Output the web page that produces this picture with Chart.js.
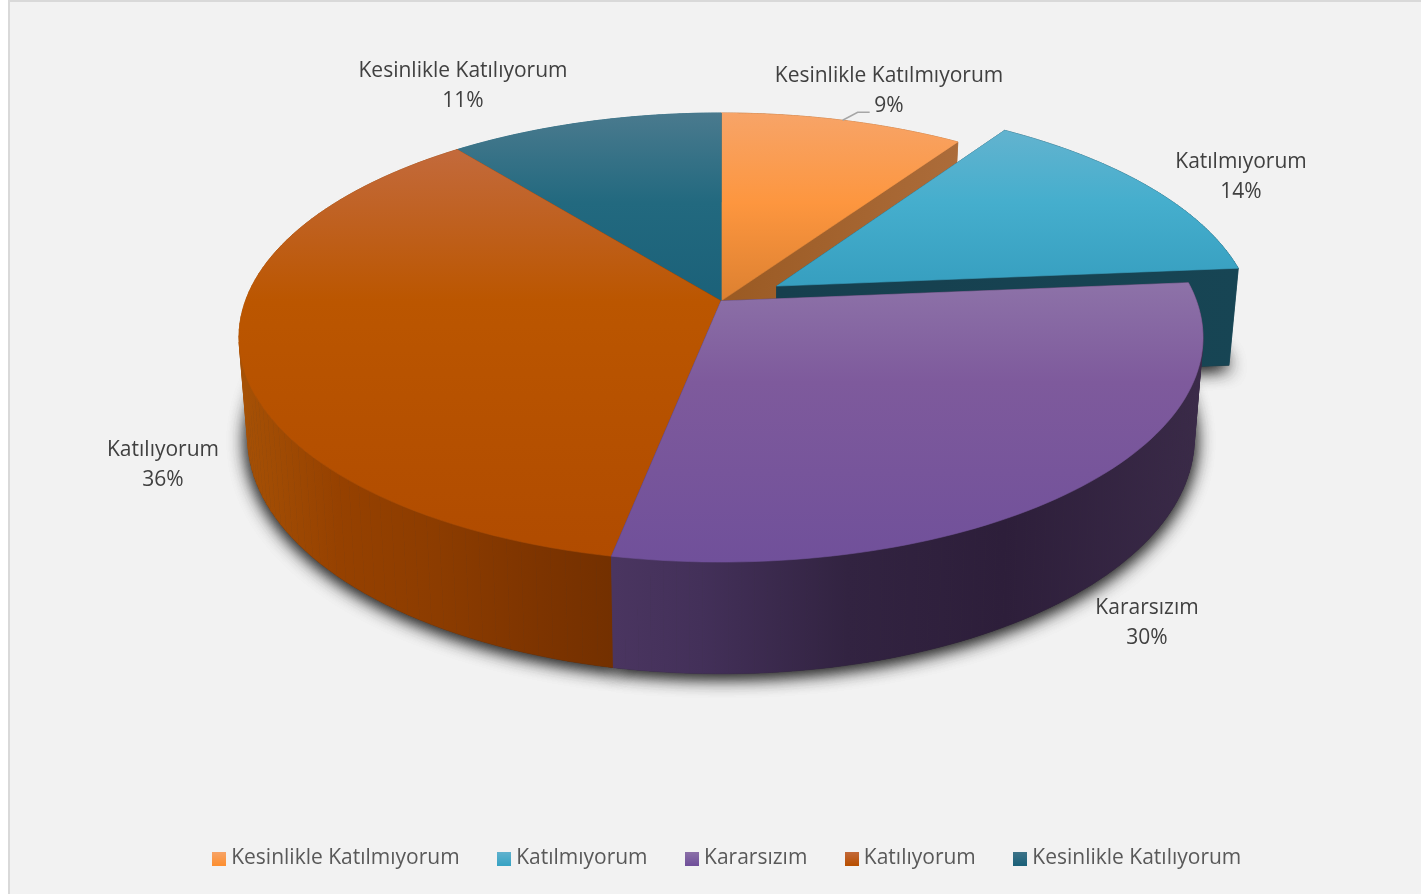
<!DOCTYPE html>
<html lang="tr">
<head>
<meta charset="UTF-8">
<title>Pie</title>
<script src="https://cdn.jsdelivr.net/npm/chart.js"></script>
<style>
  html, body { margin: 0; background: #fff; }
  canvas { display: block; }
</style>
</head>
<body>
<canvas id="chart" width="1421" height="894"></canvas>
<script>
const categories = ['Kesinlikle Katılmıyorum', 'Katılmıyorum', 'Kararsızım', 'Katılıyorum', 'Kesinlikle Katılıyorum']
const shares = [9.55, 14.1, 29.45, 36.15, 10.75]
const percentLabels = ['9%', '14%', '30%', '36%', '11%']
const exploded = [0, 0.137, 0, 0, 0]
const baseColors = ['#f79646', '#4bacc6', '#8064a2', '#b84f00', '#1f6a80']

// top face shading, stops are fractions of the disc height
const topStops = [
  [[0, '#f7a468'], [0.2, '#fd963f'], [0.42, '#dc8030']],
  [[0.04, '#62b3cf'], [0.2, '#45aecd'], [0.38, '#379fc0']],
  [[0.38, '#8d72a8'], [0.6, '#7e5a9c'], [1, '#70509a']],
  [[0.08, '#c36a3c'], [0.42, '#bb5600'], [1, '#b04b00']],
  [[0, '#4a7a8e'], [0.2, '#22697f'], [0.42, '#1b6179']],
]
const wallStops = [
  [[0, '#9a5a23'], [1, '#ac6c3a']],
  [[0, '#163f4e'], [1, '#174554']],
  [[0, '#4a3560'], [0.15, '#433059'], [0.4, '#322341'], [0.67, '#2d1e3a'], [1, '#3a2a48']],
  [[0, '#a55005'], [0.25, '#964100'], [0.52, '#8c3c00'], [0.8, '#7d3400'], [1, '#733000']],
  [[0, '#1b6179'], [1, '#1b6179']],
]
const wallSpan = [[722, 960], [778, 1238], [614, 1197], [247, 614], [458, 721]]

const labelSpots = [[889, 76], [1241, 162], [1147, 608], [163, 450], [463, 71]]

// disc projection, fitted on the picture
const CX = 721, CY = 301
const RADIUS = 400
const STRETCH_X = 1.189, STRETCH_Y = 0.5465, TILT = 0.1626
const TAPER = 0.982, DEPTH = 97, GROW = 0.05, GROW_FROM = 267

function project(X, Y, r, lower) {
  const d = 1 - TILT * Y
  let x = CX + (r * STRETCH_X * X) / d
  let y = CY + (r * STRETCH_Y * Y) / d
  if (lower) {
    x = CX + (x - CX) * TAPER
    y = y + DEPTH + (y - GROW_FROM) * GROW
  }
  return [x, y]
}

function sliceGeometry(arc, i) {
  const mid = (arc.startAngle + arc.endAngle) / 2
  const ox = exploded[i] * Math.cos(mid)
  const oy = exploded[i] * Math.sin(mid)
  const rim = []
  const steps = 80
  for (let s = 0; s <= steps; s++) {
    const a = arc.startAngle + ((arc.endAngle - arc.startAngle) * s) / steps
    rim.push([Math.cos(a) + ox, Math.sin(a) + oy])
  }
  return { mid, ox, oy, rim, r: arc.outerRadius }
}

function tracePath(ctx, pts) {
  ctx.beginPath()
  pts.forEach((p, n) => (n ? ctx.lineTo(p[0], p[1]) : ctx.moveTo(p[0], p[1])))
  ctx.closePath()
}

function paint(ctx, pts, fill) {
  tracePath(ctx, pts)
  ctx.fillStyle = fill
  ctx.strokeStyle = fill
  ctx.lineWidth = 0.6
  ctx.fill()
  ctx.stroke()
}

function makeGradient(ctx, x0, y0, x1, y1, stops) {
  const g = ctx.createLinearGradient(x0, y0, x1, y1)
  stops.forEach((s) => g.addColorStop(s[0], s[1]))
  return g
}

const pie3d = {
  id: 'pie3d',
  beforeDraw(chart) {
    const { ctx, width, height } = chart
    ctx.save()
    ctx.fillStyle = '#d9d9d9'
    ctx.fillRect(8, 0, width - 8, height)
    ctx.fillStyle = '#f2f2f2'
    ctx.fillRect(10, 2, width - 10, height - 2)
    ctx.restore()
  },
  beforeDatasetDraw(chart) {
    const { ctx } = chart
    const arcs = chart.getDatasetMeta(0).data
    const slices = arcs.map((arc, i) => ({ i, ...sliceGeometry(arc, i) }))
    const r = arcs[0].outerRadius
    const top = (p) => project(p[0], p[1], r, false)
    const low = (p) => project(p[0], p[1], r, true)
    const discTop = CY - 188, discBottom = CY + 261

    ctx.save()

    // soft shadow under the lower discs, laid twice to get it dark enough
    ctx.shadowColor = 'rgba(25,25,25,0.85)'
    ctx.shadowBlur = 18
    ctx.shadowOffsetY = 3
    for (let pass = 0; pass < 2; pass++) {
      slices.forEach((s) => {
        tracePath(ctx, [low([s.ox, s.oy])].concat(s.rim.map(low)))
        ctx.fillStyle = '#333333'
        ctx.fill()
      })
    }
    ctx.shadowColor = 'transparent'
    ctx.shadowBlur = 0
    ctx.shadowOffsetY = 0

    // back slices first
    slices
      .slice()
      .sort((a, b) => Math.sin(a.mid) + a.oy - (Math.sin(b.mid) + b.oy))
      .forEach((s) => {
        const span = wallSpan[s.i]
        const wall = makeGradient(ctx, span[0], 0, span[1], 0, wallStops[s.i])
        const apex = [s.ox, s.oy]
        const first = s.rim[0], last = s.rim[s.rim.length - 1]
        paint(ctx, [top(apex), top(first), low(first), low(apex)], wall)
        paint(ctx, [top(apex), top(last), low(last), low(apex)], wall)
        // outer wall as small quads so the silhouette edge stays straight
        for (let n = 1; n < s.rim.length; n++) {
          const p = s.rim[n - 1], q = s.rim[n]
          paint(ctx, [top(p), top(q), low(q), low(p)], wall)
        }
        const face = makeGradient(ctx, 0, discTop, 0, discBottom, topStops[s.i])
        paint(ctx, [top(apex)].concat(s.rim.map(top)), face)
      })

    // data labels
    ctx.textAlign = 'center'
    ctx.textBaseline = 'middle'
    ctx.font = '21px "Open Sans"'
    ctx.fillStyle = '#404040'
    categories.forEach((name, i) => {
      ctx.fillText(name, labelSpots[i][0], labelSpots[i][1])
      ctx.fillText(percentLabels[i], labelSpots[i][0], labelSpots[i][1] + 30)
    })

    // leader of the first label, from the rim at the middle of the slice
    const a = slices[0].mid
    const foot = top([Math.cos(a), Math.sin(a)])
    ctx.beginPath()
    ctx.moveTo(foot[0], foot[1])
    ctx.lineTo(foot[0] + 15, foot[1] - 8)
    ctx.lineTo(foot[0] + 27, foot[1] - 8)
    ctx.strokeStyle = '#a6a6a6'
    ctx.lineWidth = 1.5
    ctx.stroke()

    ctx.restore()
    return false
  },
}

function swatch(stops) {
  const c = document.createElement('canvas')
  c.width = 14
  c.height = 14
  const g = c.getContext('2d')
  const fill = g.createLinearGradient(0, 0, 0, 14)
  fill.addColorStop(0, stops[0])
  fill.addColorStop(1, stops[1])
  g.fillStyle = fill
  g.fillRect(0, 0, 14, 14)
  return c
}
const swatches = [
  swatch(['#f7a468', '#fd8f30']),
  swatch(['#62b3cf', '#37a3c4']),
  swatch(['#8d72a8', '#70509a']),
  swatch(['#c36a3c', '#b84f00']),
  swatch(['#3f7489', '#1b6179']),
]

new Chart(document.getElementById('chart'), {
  type: 'pie',
  data: {
    labels: categories,
    datasets: [{ data: shares, backgroundColor: baseColors, radius: RADIUS }],
  },
  options: {
    responsive: false,
    animation: false,
    layout: { padding: { left: 38, right: 0, top: 0, bottom: 15 } },
    plugins: {
      tooltip: { enabled: false },
      legend: {
        position: 'bottom',
        labels: {
          usePointStyle: true,
          pointStyleWidth: 3,
          padding: 43,
          font: { family: '"Open Sans"', size: 21 },
          generateLabels: () =>
            categories.map((text, i) => ({
              text,
              pointStyle: swatches[i],
              fontColor: '#595959',
              index: i,
              datasetIndex: 0,
            })),
        },
      },
    },
  },
  plugins: [pie3d],
})
</script>
</body>
</html>
